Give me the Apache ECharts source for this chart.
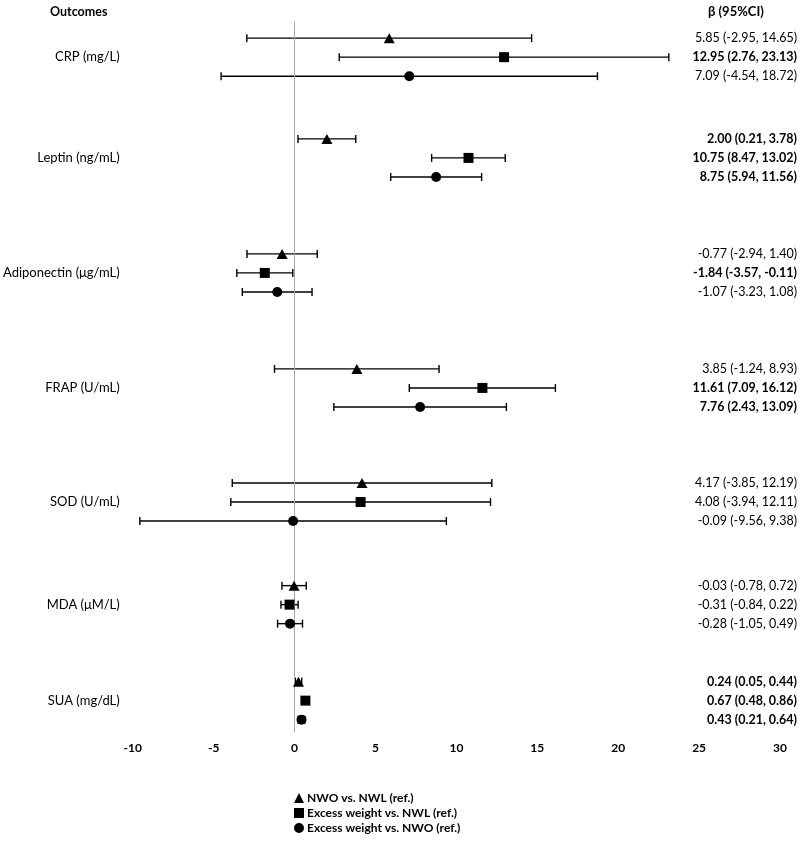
<!DOCTYPE html>
<html>
<head>
<meta charset="utf-8">
<script src="https://cdn.jsdelivr.net/npm/echarts@6.0.0/dist/echarts.min.js"></script>
<style>
  html, body { margin: 0; padding: 0; background: #fff; }
  #chart { width: 800px; height: 841px; }
</style>
</head>
<body>
<div id="chart"></div>
<script>
// outcomes, top to bottom
var outcomes = ['CRP (mg/L)', 'Leptin (ng/mL)', 'Adiponectin (μg/mL)', 'FRAP (U/mL)', 'SOD (U/mL)', 'MDA (μM/L)', 'SUA (mg/dL)'];
var seriesNames = ['NWO vs. NWL (ref.)', 'Excess weight vs. NWL (ref.)', 'Excess weight vs. NWO (ref.)'];

// NWO vs. NWL
var betaA = [5.85, 2.00, -0.77, 3.85, 4.17, -0.03, 0.24];
var lowA  = [-2.95, 0.21, -2.94, -1.24, -3.85, -0.78, 0.05];
var highA = [14.65, 3.78, 1.40, 8.93, 12.19, 0.72, 0.44];
var sigA  = [0, 1, 0, 0, 0, 0, 1];
// Excess weight vs. NWL
var betaB = [12.95, 10.75, -1.84, 11.61, 4.08, -0.31, 0.67];
var lowB  = [2.76, 8.47, -3.57, 7.09, -3.94, -0.84, 0.48];
var highB = [23.13, 13.02, -0.11, 16.12, 12.11, 0.22, 0.86];
var sigB  = [1, 1, 1, 1, 0, 0, 1];
// Excess weight vs. NWO
var betaC = [7.09, 8.75, -1.07, 7.76, -0.09, -0.28, 0.43];
var lowC  = [-4.54, 5.94, -3.23, 2.43, -9.56, -1.05, 0.21];
var highC = [18.72, 11.56, 1.08, 13.09, 9.38, 0.49, 0.64];
var sigC  = [0, 1, 0, 1, 0, 0, 1];

var xTicks = { min: -10, max: 30, step: 5 };

// layout: first row of each outcome block on the (inverted) row axis
var blockStart = [0, 5.3, 11.35, 17.4, 23.4, 28.8, 33.85];
var symbols = ['triangle', 'rect', 'circle'];
var symbolSizes = [[11, 10], 10, 10];
var FONT = 'Lato, "Open Sans", sans-serif';

var betas = [betaA, betaB, betaC], lows = [lowA, lowB, lowC], highs = [highA, highB, highC], sigs = [sigA, sigB, sigC];

function f2(v) { return v.toFixed(2); }

var rowText = {};   // row position -> estimate text
var rowVals = [];
var errData = [];
var pointSeries = [];
for (var s = 0; s < 3; s++) {
  var pts = [];
  for (var i = 0; i < outcomes.length; i++) {
    var row = blockStart[i] + s;
    pts.push([betas[s][i], row]);
    errData.push([lows[s][i], highs[s][i], row]);
    var txt = f2(betas[s][i]) + ' (' + f2(lows[s][i]) + ', ' + f2(highs[s][i]) + ')';
    rowText[row.toFixed(2)] = sigs[s][i] ? '{b|' + txt + '}' : '{n|' + txt + '}';
    rowVals.push(row);
  }
  pointSeries.push({
    name: seriesNames[s],
    type: 'scatter',
    symbol: symbols[s],
    symbolSize: symbolSizes[s],
    itemStyle: { color: '#000', opacity: 1 },
    z: 5,
    data: pts
  });
}
var labelRows = blockStart.map(function (v) { return v + 1; });

var chart = echarts.init(document.getElementById('chart'));
chart.setOption({
  backgroundColor: '#fff',
  animation: false,
  textStyle: { fontFamily: FONT },
  title: [
    { text: 'Outcomes', left: 45, top: 0, textStyle: { fontSize: 12.5, fontWeight: 'bold', color: '#000', fontFamily: FONT } },
    { text: 'β (95%CI)', left: 703, top: 0, textStyle: { fontSize: 13, fontWeight: 'bold', color: '#000', fontFamily: FONT } }
  ],
  legend: {
    orient: 'vertical',
    left: 294,
    top: 792,
    padding: 0,
    itemGap: 3,
    itemWidth: 10,
    itemHeight: 10,
    textStyle: { fontSize: 12, fontWeight: 'bold', color: '#000', fontFamily: FONT, padding: [0, 0, 0, -2] },
    data: seriesNames.map(function (n, k) { return { name: n, icon: symbols[k] }; })
  },
  grid: { left: 127, right: 20, top: 22, bottom: 109 },
  xAxis: {
    type: 'value',
    min: xTicks.min,
    max: xTicks.max,
    interval: xTicks.step,
    axisLine: { show: false },
    axisTick: { show: false },
    splitLine: { show: false },
    axisLabel: { color: '#000', fontSize: 12, fontWeight: 'bold', margin: 10, fontFamily: FONT }
  },
  yAxis: [{
    type: 'value',
    inverse: true,
    min: -0.85,
    max: 36.5,
    position: 'left',
    axisLine: { show: false },
    axisTick: { show: false },
    splitLine: { show: false },
    axisLabel: {
      customValues: labelRows,
      margin: 13,
      color: '#000',
      fontSize: 13,
      fontFamily: FONT,
      formatter: function (v) {
        for (var k = 0; k < labelRows.length; k++) {
          if (Math.abs(labelRows[k] - v) < 0.01) return outcomes[k];
        }
        return '';
      }
    }
  }, {
    type: 'value',
    inverse: true,
    min: -0.85,
    max: 36.5,
    position: 'right',
    axisLine: { show: false },
    axisTick: { show: false },
    splitLine: { show: false },
    axisLabel: {
      customValues: rowVals,
      margin: 17,
      align: 'right',
      formatter: function (v) { return rowText[v.toFixed(2)] || ''; },
      rich: {
        n: { fontSize: 12.5, color: '#000', fontFamily: FONT },
        b: { fontSize: 12.5, color: '#000', fontWeight: 'bold', fontFamily: FONT }
      }
    }
  }],
  series: [{
    type: 'custom',
    name: 'ci',
    data: errData,
    z: 3,
    renderItem: function (params, api) {
      var y = api.value(2);
      var p1 = api.coord([api.value(0), y]);
      var p2 = api.coord([api.value(1), y]);
      var h = 4;
      var st = { stroke: '#000', lineWidth: 1.4 };
      return {
        type: 'group',
        children: [
          { type: 'line', shape: { x1: p1[0], y1: p1[1], x2: p2[0], y2: p2[1] }, style: st },
          { type: 'line', shape: { x1: p1[0], y1: p1[1] - h, x2: p1[0], y2: p1[1] + h }, style: st },
          { type: 'line', shape: { x1: p2[0], y1: p2[1] - h, x2: p2[0], y2: p2[1] + h }, style: st }
        ]
      };
    },
    markLine: {
      silent: true,
      symbol: 'none',
      label: { show: false },
      lineStyle: { color: '#a6a6a6', width: 1, type: 'solid' },
      data: [{ xAxis: 0 }]
    }
  }].concat(pointSeries)
});
</script>
</body>
</html>
